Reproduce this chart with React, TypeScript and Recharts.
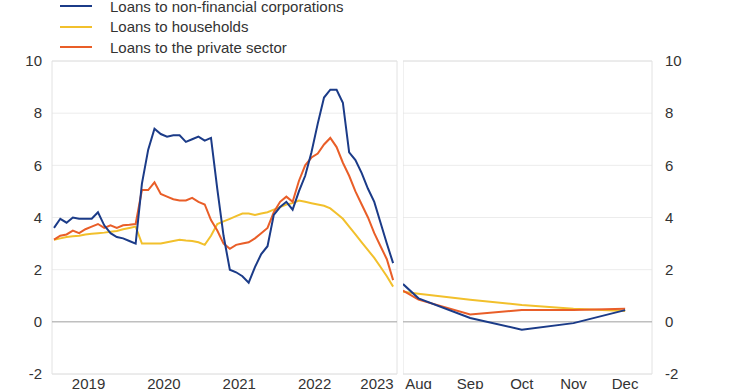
import { LineChart, Line, XAxis, YAxis, CartesianGrid, ReferenceLine, ReferenceArea } from "recharts";

// monthly annual growth rates, Jan 2019 - Jul 2023
const nfcMonthly = [
  3.6, 3.95, 3.8, 4.0, 3.95, 3.95, 3.95, 4.2, 3.7, 3.4, 3.25, 3.2,
  3.1, 3.0, 5.3, 6.6, 7.4, 7.2, 7.1, 7.15, 7.15, 6.9, 7.0, 7.1,
  6.95, 7.05, 5.1, 3.3, 2.0, 1.9, 1.75, 1.5, 2.1, 2.6, 2.9, 4.1,
  4.4, 4.6, 4.3, 5.0, 5.6, 6.5, 7.6, 8.6, 8.9, 8.9, 8.4, 6.5,
  6.2, 5.7, 5.1, 4.6, 3.8, 3.0, 2.25,
];
const householdsMonthly = [
  3.15, 3.2, 3.25, 3.28, 3.3, 3.35, 3.38, 3.4, 3.42, 3.45, 3.48, 3.55,
  3.6, 3.65, 3.0, 3.0, 3.0, 3.0, 3.05, 3.1, 3.15, 3.12, 3.1, 3.05,
  2.95, 3.3, 3.75, 3.85, 3.95, 4.05, 4.15, 4.15, 4.1, 4.15, 4.2, 4.3,
  4.4, 4.5, 4.55, 4.65, 4.6, 4.55, 4.5, 4.45, 4.35, 4.15, 3.95, 3.65,
  3.35, 3.05, 2.75, 2.45, 2.1, 1.75, 1.35,
];
const privateMonthly = [
  3.15, 3.3, 3.35, 3.5, 3.4, 3.55, 3.65, 3.75, 3.6, 3.7, 3.6, 3.7,
  3.72, 3.75, 5.05, 5.05, 5.35, 4.9, 4.8, 4.7, 4.65, 4.65, 4.75, 4.6,
  4.5, 3.9, 3.5, 3.0, 2.8, 2.95, 3.0, 3.05, 3.2, 3.4, 3.6, 4.2,
  4.6, 4.8, 4.6, 5.4, 6.0, 6.3, 6.45, 6.8, 7.05, 6.7, 6.1, 5.6,
  5.0, 4.5, 4.0, 3.4, 2.9, 2.4, 1.6,
];

const yearTicks = [5.5, 17.5, 29.5, 41.5, 53.5];
const yearLabels = ["2019", "2020", "2021", "2022", "2023"];

// right panel: latest months
const recentMonths = [7.7, 8, 9, 10, 11, 12];
const nfcRecent = [1.45, 0.9, 0.15, -0.3, -0.05, 0.45];
const householdsRecent = [1.15, 1.08, 0.85, 0.65, 0.5, 0.42];
const privateRecent = [1.2, 0.85, 0.28, 0.45, 0.45, 0.5];
const monthTicks = [8, 9, 10, 11, 12];
const monthLabels = ["Aug", "Sep", "Oct", "Nov", "Dec"];

const valueTicks = [-2, 0, 2, 4, 6, 8, 10];

const BLUE = "#1b3b88";
const YELLOW = "#f2c02c";
const ORANGE = "#e95e28";

const leftData = nfcMonthly.map((v, i) => ({
  t: i,
  nfc: v,
  hh: householdsMonthly[i],
  ps: privateMonthly[i],
}));

const rightData = recentMonths.map((t, i) => ({
  t,
  nfc: nfcRecent[i],
  hh: householdsRecent[i],
  ps: privateRecent[i],
}));

const legendItems = [
  { label: "Loans to non-financial corporations", color: BLUE },
  { label: "Loans to households", color: YELLOW },
  { label: "Loans to the private sector", color: ORANGE },
];

const tickStyle = { fontSize: 15, fill: "#333" };

function YearTick(props: any) {
  const { x, y, payload, index } = props;
  const i = yearTicks.indexOf(payload.value);
  const last = index === yearTicks.length - 1;
  return (
    <text x={last ? x - 9 : x} y={y} dy="0.71em" textAnchor="middle" fontSize={15} fill="#333">
      {yearLabels[i]}
    </text>
  );
}

export default function App() {
  const leftDomain: [number, number] = [-0.32, 54.62];
  const rightDomain: [number, number] = [7.7, 12.52];

  return (
    <div
      style={{
        position: "absolute",
        left: 0,
        top: 0,
        width: 740,
        height: 389,
        overflow: "hidden",
        background: "#fff",
        fontFamily: "'Liberation Sans', Arial, sans-serif",
      }}
    >
      <div style={{ position: "absolute", left: 0, top: 0 }}>
        <LineChart width={400} height={389} data={leftData} margin={{ top: 61, right: 3, bottom: 0, left: 0 }}>
          <CartesianGrid vertical={false} stroke="#ececec" />
          <ReferenceArea x1={leftDomain[0]} x2={leftDomain[1]} y1={-2} y2={10} fill="none" stroke="#e2e2e2" />
          <XAxis
            type="number"
            dataKey="t"
            domain={leftDomain}
            ticks={yearTicks}
            tick={<YearTick />}
            axisLine={false}
            tickLine={false}
            tickSize={0}
            tickMargin={4}
            height={15}
            allowDataOverflow
          />
          <YAxis
            domain={[-2, 10]}
            ticks={valueTicks}
            width={52}
            axisLine={false}
            tickLine={false}
            tickSize={0}
            tickMargin={10}
            tick={tickStyle}
          />
          <ReferenceLine y={0} stroke="#a6a6a6" />
          <Line dataKey="hh" stroke={YELLOW} strokeWidth={2} dot={false} isAnimationActive={false} />
          <Line dataKey="ps" stroke={ORANGE} strokeWidth={2} dot={false} isAnimationActive={false} />
          <Line dataKey="nfc" stroke={BLUE} strokeWidth={2} dot={false} isAnimationActive={false} />
        </LineChart>
      </div>

      <div style={{ position: "absolute", left: 403, top: 0 }}>
        <LineChart width={337} height={389} data={rightData} margin={{ top: 61, right: 0, bottom: 0, left: 0 }}>
          <CartesianGrid vertical={false} stroke="#ececec" />
          <ReferenceArea x1={rightDomain[0]} x2={rightDomain[1]} y1={-2} y2={10} fill="none" stroke="#e2e2e2" />
          <XAxis
            type="number"
            dataKey="t"
            domain={rightDomain}
            ticks={monthTicks}
            tickFormatter={(v: number) => monthLabels[monthTicks.indexOf(v)]}
            axisLine={false}
            tickLine={false}
            tickSize={0}
            tickMargin={4}
            height={15}
            tick={tickStyle}
            allowDataOverflow
          />
          <YAxis
            orientation="right"
            domain={[-2, 10]}
            ticks={valueTicks}
            width={88}
            axisLine={false}
            tickLine={false}
            tickSize={0}
            tickMargin={13}
            tick={tickStyle}
          />
          <ReferenceLine y={0} stroke="#a6a6a6" />
          <Line dataKey="hh" stroke={YELLOW} strokeWidth={2} dot={false} isAnimationActive={false} />
          <Line dataKey="ps" stroke={ORANGE} strokeWidth={2} dot={false} isAnimationActive={false} />
          <Line dataKey="nfc" stroke={BLUE} strokeWidth={2} dot={false} isAnimationActive={false} />
        </LineChart>
      </div>

      {legendItems.map((item, i) => (
        <div
          key={item.label}
          style={{
            position: "absolute",
            left: 60,
            top: -4 + i * 20.5,
            height: 20,
            display: "flex",
            alignItems: "center",
            fontSize: 15,
            color: "#333",
            whiteSpace: "nowrap",
          }}
        >
          <span style={{ display: "inline-block", width: 32, height: 2, background: item.color, marginRight: 18 }} />
          {item.label}
        </div>
      ))}
    </div>
  );
}
